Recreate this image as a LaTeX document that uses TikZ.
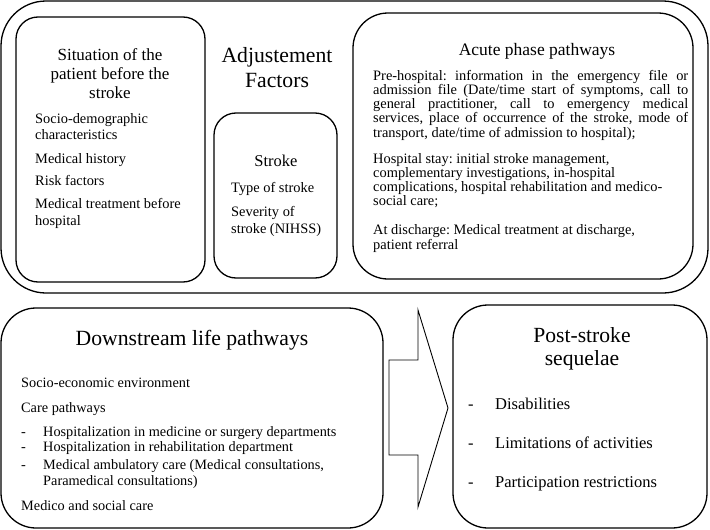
\documentclass[tikz,border=0pt]{standalone}
\usepackage{fontspec}
\setmainfont{Liberation Serif}
\frenchspacing
\begin{document}
\begin{tikzpicture}[x=1pt,y=-1pt,
    box/.style={draw,line width=1.3pt,inner sep=0pt},
    head/.style={inner sep=0pt,align=center,anchor=base,font=\fontsize{17}{19}\selectfont},
    bighead/.style={inner sep=0pt,align=center,anchor=base,font=\fontsize{21.7}{24.5}\selectfont},
    body/.style={inner sep=0pt,align=left,anchor=base west,font=\fontsize{14.4}{16.3}\selectfont}]
  \useasboundingbox (0,0) rectangle (710,530);
  \draw
    (354.5,147) node[box,rounded corners=45pt,minimum width=707pt,minimum height=292pt] (factors){}
    (110.5,149.5) node[box,rounded corners=22pt,minimum width=189pt,minimum height=265pt] (situation){}
    (275.5,195.5) node[box,rounded corners=22pt,minimum width=123pt,minimum height=165pt] (stroke){}
    (523,146) node[box,rounded corners=35pt,minimum width=340pt,minimum height=266pt] (acute){}
    (192,418) node[box,rounded corners=35pt,minimum width=382pt,minimum height=220pt] (downstream){}
    (580,416.5) node[box,rounded corners=35pt,minimum width=254pt,minimum height=223pt] (sequelae){};
  \draw[line width=0.9pt] (389,360) -- (418,360) -- (418,310) -- (448,408)
    -- (418,507) -- (418,455) -- (389,455) -- cycle;

  \node[bighead] (factorstitle) at (277,87) {Adjustement\\Factors};

  \node[head] (situationtitle) at (110,98) {Situation of the\\patient before the\\stroke};
  \node[body] (situationtext) at (35,225) {Socio-demographic\\characteristics\\[7pt]
    Medical history\\[6pt]Risk factors\\[7pt]Medical treatment before\\hospital};

  \node[head,font=\fontsize{16.5}{19}\selectfont] (stroketitle) at (276,166) {Stroke};
  \node[body] (stroketext) at (231,233) {Type of stroke\\[8pt]Severity of\\stroke (NIHSS)};

  \node[head,font=\fontsize{17.5}{19}\selectfont] (acutetitle) at (537,55) {Acute phase pathways};
  \node[body,text width=315pt,align=justify,font=\fontsize{14.4}{14.3}\selectfont] (acutetext) at (373,80)
    {Pre-hospital: information in the emergency file or\linebreak
    admission file (Date/time start of symptoms, call to\linebreak
    general practitioner, call to emergency medical\linebreak
    services, place of occurrence of the stroke, mode of\linebreak
    transport, date/time of admission to hospital);\\[11.5pt]
    Hospital stay: initial stroke management,\\
    complementary investigations, in-hospital\\
    complications, hospital rehabilitation and medico-\\
    social care;\\[14.5pt]
    At discharge: Medical treatment at discharge,\\
    patient referral};

  \node[bighead] (downstreamtitle) at (192,345) {Downstream life pathways};
  \node[body,font=\fontsize{14.3}{15.5}\selectfont] (downstreamtext) at (21,510)
    {Socio-economic environment\\[9pt]
    Care pathways\\[8.5pt]
    \makebox[22pt][l]{-}Hospitalization in medicine or surgery departments\\
    \makebox[22pt][l]{-}Hospitalization in rehabilitation department\\[2.5pt]
    \makebox[22pt][l]{-}Medical ambulatory care (Medical consultations,\\
    \hspace*{22pt}Paramedical consultations)\\[9.5pt]
    Medico and social care};

  \node[bighead,font=\fontsize{21.6}{23}\selectfont] (sequelaetitle) at (582,365) {Post-stroke\\sequelae};
  \node[body,font=\fontsize{16.5}{19}\selectfont] (sequelaetext) at (468,487)
    {\makebox[27pt][l]{-}Disabilities\\[20pt]
    \makebox[27pt][l]{-}Limitations of activities\\[20pt]
    \makebox[27pt][l]{-}Participation restrictions};
\end{tikzpicture}
\end{document}
